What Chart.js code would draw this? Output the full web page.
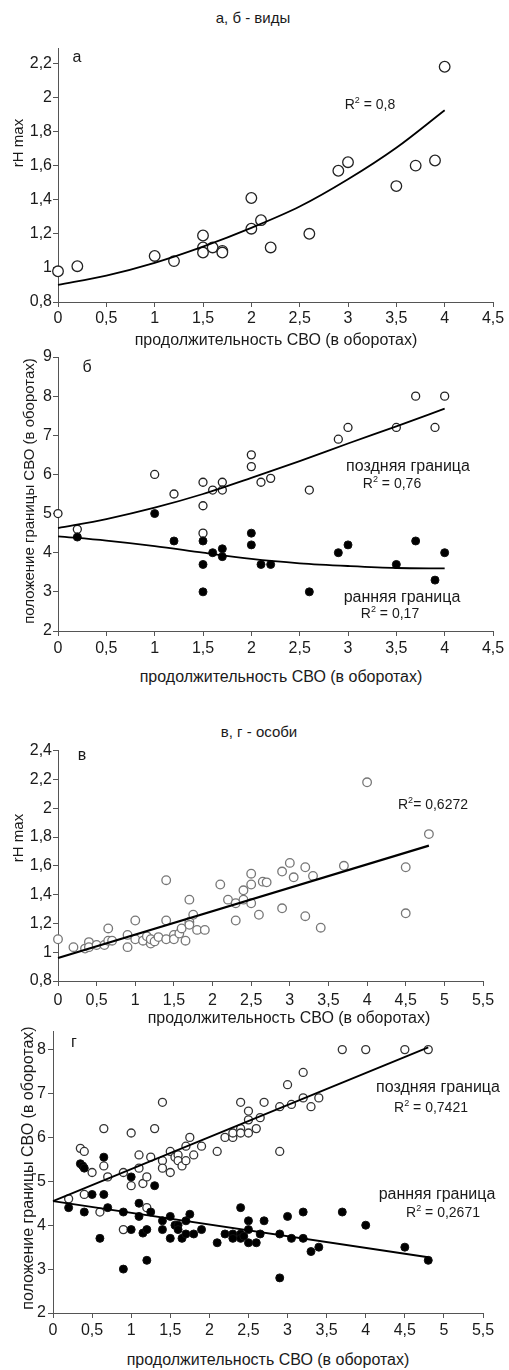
<!DOCTYPE html>
<html lang="ru">
<head>
<meta charset="utf-8">
<title>Продолжительность СВО</title>
<script src="https://cdn.jsdelivr.net/npm/chart.js@4/dist/chart.umd.min.js"></script>
<style>
  body { margin: 0; background: #fff; }
  #page { position: relative; width: 509px; height: 1370px; overflow: hidden;
          font-family: "Liberation Sans", Arial, sans-serif; color: #1a1a1a; }
  canvas { position: absolute; left: 0; }
  .t { position: absolute; white-space: nowrap; transform: translate(-50%, -50%);
       font-size: 16px; line-height: 1; z-index: 2; }
  .rot { transform: translate(-50%, -50%) rotate(-90deg); }
  .r2 { font-size: 14px; }
  .ttl { font-size: 15px; }
  sup { font-size: 9px; vertical-align: 6px; line-height: 0; }
</style>
</head>
<body>
<div id="page">
  <div class="t ttl" style="left:253px;top:17px">а, б - виды</div>
  <div class="t" style="left:77px;top:57px">а</div>
  <div class="t r2" style="left:370px;top:104px">R<sup>2</sup> = 0,8</div>
  <div class="t rot ttl" style="left:17px;top:143px">rH max</div>
  <div class="t" style="left:276px;top:340px">продолжительность СВО (в оборотах)</div>

  <div class="t" style="left:87px;top:367px">б</div>
  <div class="t rot ttl" style="left:28px;top:491px">положение границы СВО (в оборотах)</div>
  <div class="t" style="left:408px;top:466px">поздняя граница</div>
  <div class="t r2" style="left:392px;top:483px">R<sup>2</sup> = 0,76</div>
  <div class="t" style="left:402px;top:597px">ранняя граница</div>
  <div class="t r2" style="left:390px;top:613px">R<sup>2</sup> = 0,17</div>
  <div class="t" style="left:281px;top:677px">продолжительность СВО (в оборотах)</div>

  <div class="t ttl" style="left:259px;top:731px">в, г - особи</div>
  <div class="t" style="left:82px;top:755px">в</div>
  <div class="t rot ttl" style="left:17px;top:838px">rH max</div>
  <div class="t r2" style="left:433px;top:804px">R<sup>2</sup>= 0,6272</div>
  <div class="t" style="left:289px;top:1018px">продолжительность СВО (в оборотах)</div>

  <div class="t" style="left:74px;top:1042px">г</div>
  <div class="t rot" style="left:28px;top:1168px">положение границы СВО (в оборотах)</div>
  <div class="t" style="left:438px;top:1087px">поздняя граница</div>
  <div class="t r2" style="left:431px;top:1107px">R<sup>2</sup> = 0,7421</div>
  <div class="t" style="left:437px;top:1194px">ранняя граница</div>
  <div class="t r2" style="left:443px;top:1212px">R<sup>2</sup> = 0,2671</div>
  <div class="t" style="left:268px;top:1360px">продолжительность СВО (в оборотах)</div>
</div>
<script>
// а - виды: rH max
const aX = [0, 0.2, 1, 1.2, 1.5, 1.5, 1.5, 1.6, 1.7, 1.7, 2, 2, 2.1, 2.2, 2.6, 2.9, 3, 3.5, 3.7, 3.9, 4];
const aY = [0.98, 1.01, 1.07, 1.04, 1.19, 1.12, 1.09, 1.12, 1.10, 1.09, 1.41, 1.23, 1.28, 1.12, 1.20, 1.57, 1.62, 1.48, 1.60, 1.63, 2.18];
const aTrendX = [0, 0.5, 1, 1.5, 2, 2.5, 3, 3.5, 4];
const aTrendY = [0.90, 0.955, 1.03, 1.125, 1.235, 1.36, 1.52, 1.705, 1.925];

// б - виды: границы
const bLateX = [0, 0.2, 1, 1.2, 1.5, 1.5, 1.5, 1.6, 1.7, 1.7, 2, 2, 2.1, 2.2, 2.6, 2.9, 3, 3.5, 3.7, 3.9, 4];
const bLateY = [5.0, 4.6, 6.0, 5.5, 5.8, 5.2, 4.5, 5.6, 5.8, 5.6, 6.5, 6.2, 5.8, 5.9, 5.6, 6.9, 7.2, 7.2, 8.0, 7.2, 8.0];
const bEarlyX = [0.2, 1, 1.2, 1.5, 1.5, 1.5, 1.6, 1.7, 1.7, 2, 2, 2.1, 2.2, 2.6, 2.9, 3, 3.5, 3.7, 3.9, 4];
const bEarlyY = [4.4, 5.0, 4.3, 4.3, 3.7, 3.0, 4.0, 4.1, 3.9, 4.5, 4.2, 3.7, 3.7, 3.0, 4.0, 4.2, 3.7, 4.3, 3.3, 4.0];
const bTrendX = [0, 0.5, 1, 1.5, 2, 2.5, 3, 3.5, 4];
const bLateTrendY = [4.63, 4.86, 5.15, 5.5, 5.91, 6.34, 6.79, 7.23, 7.68];
const bEarlyTrendY = [4.42, 4.31, 4.17, 4.0, 3.84, 3.73, 3.66, 3.61, 3.60];

// в - особи: rH max
const vX = [0, 0.2, 0.35, 0.4, 0.4, 0.5, 0.6, 0.65, 0.65, 0.7, 0.9, 0.9, 1, 1, 1.1, 1.15, 1.2, 1.2, 1.25, 1.3,
  1.4, 1.4, 1.4, 1.5, 1.5, 1.57, 1.6, 1.65, 1.7, 1.7, 1.7, 1.75, 1.8, 1.9, 2.1, 2.2, 2.3, 2.3, 2.4, 2.4,
  2.5, 2.5, 2.5, 2.6, 2.65, 2.7, 2.9, 2.9, 3, 3.05, 3.2, 3.2, 3.3, 3.4, 3.7, 4, 4.5, 4.5, 4.8];
const vY = [1.09, 1.035, 1.025, 1.07, 1.035, 1.05, 1.05, 1.165, 1.08, 1.08, 1.12, 1.035, 1.22, 1.09, 1.08, 1.11, 1.06, 1.09, 1.075, 1.105,
  1.5, 1.22, 1.09, 1.12, 1.09, 1.13, 1.165, 1.08, 1.365, 1.21, 1.19, 1.26, 1.155, 1.155, 1.47, 1.365, 1.34, 1.22, 1.43, 1.365,
  1.545, 1.47, 1.34, 1.26, 1.49, 1.485, 1.56, 1.305, 1.62, 1.52, 1.59, 1.25, 1.53, 1.17, 1.60, 2.18, 1.59, 1.27, 1.82];
const vTrendX = [0, 4.8];
const vTrendY = [0.96, 1.74];

// г - особи: границы
const gLateX = [0.2, 0.4, 0.35, 0.4, 0.5, 0.6, 0.65, 0.65, 0.7, 0.9, 0.9, 1, 1, 1.1, 1.1, 1.15, 1.2, 1.2, 1.25, 1.3,
  1.4, 1.4, 1.4, 1.5, 1.5, 1.56, 1.6, 1.6, 1.65, 1.7, 1.7, 1.75, 1.8, 1.9, 2.1, 2.2, 2.3, 2.3, 2.4, 2.4, 2.4,
  2.5, 2.5, 2.5, 2.6, 2.65, 2.7, 2.9, 2.9, 3, 3.05, 3.2, 3.2, 3.3, 3.4, 3.7, 4, 4.5, 4.8];
const gLateY = [4.6, 4.7, 5.75, 5.68, 5.2, 4.3, 6.2, 5.35, 5.1, 5.2, 3.9, 6.1, 4.9, 5.6, 5.3, 4.95, 5.1, 4.4, 5.55, 6.2,
  6.8, 5.47, 5.3, 5.68, 5.2, 5.55, 5.6, 5.47, 5.35, 5.8, 5.47, 6.0, 5.6, 5.8, 5.68, 6.0, 6.0, 6.1, 6.8, 6.2, 6.1,
  6.6, 6.4, 6.1, 6.2, 6.45, 6.8, 6.7, 5.68, 7.2, 6.75, 7.48, 6.9, 6.7, 6.9, 8.0, 8.0, 8.0, 8.0];
const gEarlyX = [0.2, 0.35, 0.38, 0.4, 0.4, 0.5, 0.6, 0.65, 0.65, 0.7, 0.9, 0.9, 1, 1, 1.1, 1.1, 1.15, 1.2, 1.2, 1.25, 1.3,
  1.4, 1.4, 1.5, 1.5, 1.56, 1.6, 1.6, 1.65, 1.7, 1.7, 1.75, 1.8, 1.9, 2.1, 2.2, 2.3, 2.3, 2.4, 2.4, 2.4, 2.44,
  2.5, 2.5, 2.5, 2.6, 2.65, 2.7, 2.9, 2.9, 3, 3.05, 3.2, 3.2, 3.3, 3.4, 3.7, 4, 4.5, 4.8];
const gEarlyY = [4.4, 5.4, 5.35, 5.3, 4.3, 4.7, 3.7, 5.55, 4.7, 4.4, 4.3, 3.0, 5.1, 3.9, 4.5, 4.2, 3.82, 3.9, 3.2, 4.3, 4.9,
  4.1, 3.9, 4.2, 3.7, 4.0, 4.0, 3.9, 3.7, 4.1, 3.8, 4.25, 3.8, 3.9, 3.6, 3.8, 3.8, 3.7, 4.4, 3.8, 3.7, 3.75,
  4.1, 3.9, 3.6, 3.6, 3.8, 4.1, 3.8, 2.8, 4.2, 3.7, 4.3, 3.7, 3.4, 3.5, 4.3, 4.0, 3.5, 3.2];
const gTrendX = [0, 4.8];
const gLateTrendY = [4.55, 8.05];
const gEarlyTrendY = [4.55, 3.27];

// tick labels
const xTicks45 = [0, 0.5, 1, 1.5, 2, 2.5, 3, 3.5, 4, 4.5];
const xTicks55 = [0, 0.5, 1, 1.5, 2, 2.5, 3, 3.5, 4, 4.5, 5, 5.5];
const rhTicksA = [0.8, 1, 1.2, 1.4, 1.6, 1.8, 2, 2.2];
const rhTicksV = [0.8, 1, 1.2, 1.4, 1.6, 1.8, 2, 2.2, 2.4];
const posTicksB = [2, 3, 4, 5, 6, 7, 8, 9];
const posTicksG = [2, 3, 4, 5, 6, 7, 8];

const FONT = '"Liberation Sans", Arial, sans-serif';
const AXIS = '#555';
const W = 509;

function pts(xs, ys) {
  return xs.map((x, i) => ({ x, y: ys[i] }));
}

function fmt(v) {
  return String(v).replace('.', ',');
}

function openSet(xs, ys, r, stroke) {
  return {
    data: pts(xs, ys), pointRadius: r, pointBorderWidth: 1.3,
    pointBackgroundColor: '#fff', pointBorderColor: stroke, order: 2, clip: false
  };
}

function filledSet(xs, ys, r) {
  return {
    data: pts(xs, ys), pointRadius: r, pointBorderWidth: 1,
    pointBackgroundColor: '#000', pointBorderColor: '#111', order: 1, clip: false
  };
}

function trendSet(xs, ys, width) {
  return {
    data: pts(xs, ys), showLine: true, pointRadius: 0, borderColor: '#000',
    borderWidth: width, cubicInterpolationMode: 'monotone', order: 0, clip: false
  };
}

function axis(min, max, ticks, pad, fitFn) {
  return {
    type: 'linear', min, max,
    afterBuildTicks: s => { s.ticks = ticks.map(v => ({ value: v })); },
    afterFit: fitFn,
    grid: { display: true, drawOnChartArea: false, drawTicks: true, tickLength: 5, color: AXIS },
    border: { display: true, color: AXIS, width: 1 },
    ticks: { font: { family: FONT, size: 16 }, color: '#1a1a1a', padding: pad, autoSkip: false, maxRotation: 0,
      callback: v => fmt(v) }
  };
}

// box: canvas top/height and the plot area edges in page pixels
function makePanel(box, x, y, datasets) {
  const canvas = document.createElement('canvas');
  canvas.width = W;
  canvas.height = box.height;
  canvas.style.top = box.top + 'px';
  document.getElementById('page').appendChild(canvas);

  new Chart(canvas, {
    type: 'scatter',
    data: { datasets },
    options: {
      responsive: false,
      animation: false,
      devicePixelRatio: 1,
      layout: { padding: { left: 0, top: box.areaTop - box.top, right: W - box.right, bottom: 0 } },
      plugins: { legend: { display: false }, tooltip: { enabled: false } },
      events: [],
      scales: {
        x: axis(x.min, x.max, x.ticks, x.pad, s => { s.height = box.top + box.height - box.areaBottom; }),
        y: axis(y.min, y.max, y.ticks, y.pad, s => { s.width = box.left; })
      }
    }
  });
}

makePanel({ top: 30, height: 305, left: 58, right: 493, areaTop: 48, areaBottom: 302 },
  { min: 0, max: 4.5, ticks: xTicks45, pad: 2 },
  { min: 0.8, max: 2.29, ticks: rhTicksA, pad: 1 },
  [openSet(aX, aY, 5.3, '#222'), trendSet(aTrendX, aTrendY, 1.8)]);

makePanel({ top: 345, height: 320, left: 58, right: 493, areaTop: 357, areaBottom: 631 },
  { min: 0, max: 4.5, ticks: xTicks45, pad: 3 },
  { min: 2, max: 9, ticks: posTicksB, pad: 1 },
  [openSet(bLateX, bLateY, 4, '#222'), filledSet(bEarlyX, bEarlyY, 4),
   trendSet(bTrendX, bLateTrendY, 1.8), trendSet(bTrendX, bEarlyTrendY, 1.8)]);

makePanel({ top: 740, height: 275, left: 58, right: 483, areaTop: 750, areaBottom: 981 },
  { min: 0, max: 5.5, ticks: xTicks55, pad: 5 },
  { min: 0.8, max: 2.4, ticks: rhTicksV, pad: 1 },
  [openSet(vX, vY, 4.3, '#777'), trendSet(vTrendX, vTrendY, 2.2)]);

makePanel({ top: 1020, height: 330, left: 53, right: 483, areaTop: 1030, areaBottom: 1313 },
  { min: 0, max: 5.5, ticks: xTicks55, pad: 3 },
  { min: 2, max: 8.41, ticks: posTicksG, pad: 2 },
  [openSet(gLateX, gLateY, 4, '#333'), filledSet(gEarlyX, gEarlyY, 4),
   trendSet(gTrendX, gLateTrendY, 1.8), trendSet(gTrendX, gEarlyTrendY, 1.8)]);
</script>
</body>
</html>
